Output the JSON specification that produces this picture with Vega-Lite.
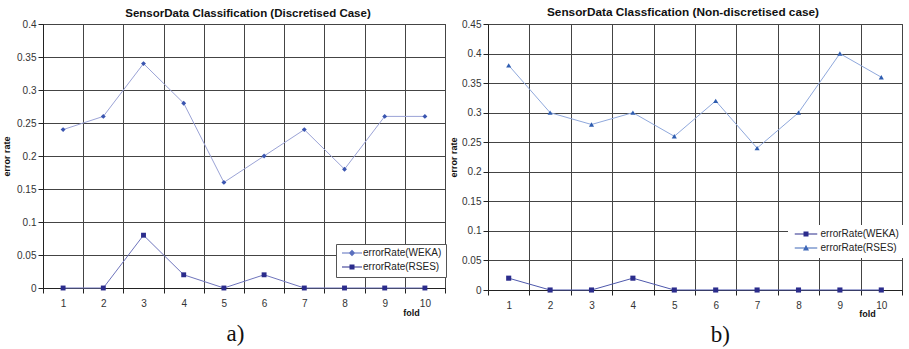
{
  "$schema": "https://vega.github.io/schema/vega-lite/v6.json",
  "background": "white",
  "padding": {"left": 2, "top": 6, "right": 2, "bottom": 0},
  "spacing": 2,
  "config": {
    "font": "Liberation Sans",
    "view": {"stroke": "#333", "strokeWidth": 1},
    "axis": {
      "labelFont": "Liberation Sans",
      "labelFontSize": 10,
      "labelColor": "#333",
      "titleFont": "Liberation Sans",
      "titleFontSize": 9,
      "titleFontWeight": "bold",
      "titleColor": "#111",
      "gridColor": "#444",
      "gridOpacity": 1,
      "gridWidth": 1,
      "domainColor": "#222",
      "tickColor": "#222",
      "tickSize": 5
    },
    "legend": {
      "labelFont": "Liberation Sans",
      "labelFontSize": 10,
      "labelColor": "#222"
    }
  },
  "datasets": {
    "d": [
      {"panel": "a", "series": "errorRate(WEKA)", "fold": 1, "rate": 0.24},
      {"panel": "a", "series": "errorRate(WEKA)", "fold": 2, "rate": 0.26},
      {"panel": "a", "series": "errorRate(WEKA)", "fold": 3, "rate": 0.34},
      {"panel": "a", "series": "errorRate(WEKA)", "fold": 4, "rate": 0.28},
      {"panel": "a", "series": "errorRate(WEKA)", "fold": 5, "rate": 0.16},
      {"panel": "a", "series": "errorRate(WEKA)", "fold": 6, "rate": 0.20},
      {"panel": "a", "series": "errorRate(WEKA)", "fold": 7, "rate": 0.24},
      {"panel": "a", "series": "errorRate(WEKA)", "fold": 8, "rate": 0.18},
      {"panel": "a", "series": "errorRate(WEKA)", "fold": 9, "rate": 0.26},
      {"panel": "a", "series": "errorRate(WEKA)", "fold": 10, "rate": 0.26},
      {"panel": "a", "series": "errorRate(RSES)", "fold": 1, "rate": 0},
      {"panel": "a", "series": "errorRate(RSES)", "fold": 2, "rate": 0},
      {"panel": "a", "series": "errorRate(RSES)", "fold": 3, "rate": 0.08},
      {"panel": "a", "series": "errorRate(RSES)", "fold": 4, "rate": 0.02},
      {"panel": "a", "series": "errorRate(RSES)", "fold": 5, "rate": 0},
      {"panel": "a", "series": "errorRate(RSES)", "fold": 6, "rate": 0.02},
      {"panel": "a", "series": "errorRate(RSES)", "fold": 7, "rate": 0},
      {"panel": "a", "series": "errorRate(RSES)", "fold": 8, "rate": 0},
      {"panel": "a", "series": "errorRate(RSES)", "fold": 9, "rate": 0},
      {"panel": "a", "series": "errorRate(RSES)", "fold": 10, "rate": 0},
      {"panel": "b", "series": "errorRate(WEKA)", "fold": 1, "rate": 0.02},
      {"panel": "b", "series": "errorRate(WEKA)", "fold": 2, "rate": 0},
      {"panel": "b", "series": "errorRate(WEKA)", "fold": 3, "rate": 0},
      {"panel": "b", "series": "errorRate(WEKA)", "fold": 4, "rate": 0.02},
      {"panel": "b", "series": "errorRate(WEKA)", "fold": 5, "rate": 0},
      {"panel": "b", "series": "errorRate(WEKA)", "fold": 6, "rate": 0},
      {"panel": "b", "series": "errorRate(WEKA)", "fold": 7, "rate": 0},
      {"panel": "b", "series": "errorRate(WEKA)", "fold": 8, "rate": 0},
      {"panel": "b", "series": "errorRate(WEKA)", "fold": 9, "rate": 0},
      {"panel": "b", "series": "errorRate(WEKA)", "fold": 10, "rate": 0},
      {"panel": "b", "series": "errorRate(RSES)", "fold": 1, "rate": 0.38},
      {"panel": "b", "series": "errorRate(RSES)", "fold": 2, "rate": 0.30},
      {"panel": "b", "series": "errorRate(RSES)", "fold": 3, "rate": 0.28},
      {"panel": "b", "series": "errorRate(RSES)", "fold": 4, "rate": 0.30},
      {"panel": "b", "series": "errorRate(RSES)", "fold": 5, "rate": 0.26},
      {"panel": "b", "series": "errorRate(RSES)", "fold": 6, "rate": 0.32},
      {"panel": "b", "series": "errorRate(RSES)", "fold": 7, "rate": 0.24},
      {"panel": "b", "series": "errorRate(RSES)", "fold": 8, "rate": 0.30},
      {"panel": "b", "series": "errorRate(RSES)", "fold": 9, "rate": 0.40},
      {"panel": "b", "series": "errorRate(RSES)", "fold": 10, "rate": 0.36}
    ]
  },
  "resolve": {
    "scale": {"color": "independent", "fill": "independent", "shape": "independent", "x": "independent", "y": "independent"},
    "legend": {"color": "independent", "fill": "independent", "shape": "independent"}
  },
  "hconcat": [
    {
      "title": {"text": "a)", "orient": "bottom", "font": "Liberation Serif", "fontSize": 23, "fontWeight": "normal", "color": "#111", "anchor": "middle", "offset": 5, "dx": 11},
      "vconcat": [
        {
          "title": {"text": "SensorData Classification (Discretised Case)", "fontSize": 11.5, "fontWeight": "bold", "color": "#111", "anchor": "middle", "offset": 0, "dx": 4},
          "width": 402,
          "height": 264,
          "data": {"name": "d"},
          "transform": [{"filter": "datum.panel == 'a'"}],
          "encoding": {
            "x": {
              "field": "fold", "type": "ordinal",
              "scale": {"type": "band", "paddingInner": 0, "paddingOuter": 0},
              "axis": {"title": "fold", "labelAngle": 0, "tickBand": "extent", "grid": true, "labelPadding": 5, "titleX": 368, "titleY": 24, "titleAlign": "center", "titleBaseline": "middle"}
            },
            "y": {
              "field": "rate", "type": "quantitative",
              "scale": {"domain": [0, 0.4], "nice": false, "zero": true},
              "axis": {"title": "error rate", "values": [0, 0.05, 0.1, 0.15, 0.2, 0.25, 0.3, 0.35, 0.4], "format": ".2~f", "grid": true, "labelPadding": 2, "titlePadding": 5}
            }
          },
          "resolve": {"scale": {"shape": "independent", "fill": "independent"}, "legend": {"shape": "independent", "fill": "independent"}},
          "layer": [
            {
              "mark": {"type": "line", "strokeWidth": 1},
              "encoding": {
                "color": {
                  "field": "series", "type": "nominal",
                  "scale": {"domain": ["errorRate(WEKA)", "errorRate(RSES)"], "range": ["#9BA3D6", "#6E74BC"]},
                  "legend": null
                }
              }
            },
            {
              "mark": {"type": "point", "filled": true, "opacity": 1, "strokeWidth": 0},
              "encoding": {
                "shape": {"field": "series", "type": "nominal", "scale": {"domain": ["errorRate(WEKA)", "errorRate(RSES)"], "range": ["diamond", "square"]}, "legend": null},
                "fill": {"field": "series", "type": "nominal", "scale": {"domain": ["errorRate(WEKA)", "errorRate(RSES)"], "range": ["#3A55B0", "#2B2C8C"]}, "legend": null},
                "size": {"value": 24}
              }
            },
            {
              "transform": [{"filter": "false"}],
              "mark": {"type": "point", "filled": true, "opacity": 1, "strokeWidth": 0},
              "encoding": {
                "shape": {"field": "series", "type": "nominal", "scale": {"domain": ["errorRate(WEKA)", "errorRate(RSES)"], "range": ["M-4,-0.2H4V0.2H-4ZM0,-1.3L1.3,0L0,1.3L-1.3,0Z", "M-4,-0.2H4V0.2H-4ZM-1,-1H1V1H-1Z"]},
                  "legend": {"title": null, "orient": "none", "legendX": 293, "legendY": 220, "fillColor": "white", "strokeColor": "#555", "padding": 4, "symbolSize": 25, "symbolOffset": 7, "labelOffset": 6, "rowPadding": 1, "symbolOpacity": 1}},
                "fill": {"field": "series", "type": "nominal", "scale": {"domain": ["errorRate(WEKA)", "errorRate(RSES)"], "range": ["#5A6FBE", "#2B2C8C"]},
                  "legend": {"title": null, "orient": "none", "legendX": 293, "legendY": 220, "fillColor": "white", "strokeColor": "#555", "padding": 4, "symbolSize": 25, "symbolOffset": 7, "labelOffset": 6, "rowPadding": 1, "symbolOpacity": 1}}
              }
            }
          ]
        }
      ]
    },
    {
      "title": {"text": "b)", "orient": "bottom", "font": "Liberation Serif", "fontSize": 23, "fontWeight": "normal", "color": "#111", "anchor": "middle", "offset": 5, "dx": 44},
      "vconcat": [
        {
          "title": {"text": "SensorData Classfication (Non-discretised case)", "fontSize": 11.8, "fontWeight": "bold", "color": "#111", "anchor": "middle", "offset": 0, "dx": -12},
          "width": 414,
          "height": 266,
          "data": {"name": "d"},
          "transform": [{"filter": "datum.panel == 'b'"}],
          "encoding": {
            "x": {
              "field": "fold", "type": "ordinal",
              "scale": {"type": "band", "paddingInner": 0, "paddingOuter": 0},
              "axis": {"title": "fold", "labelAngle": 0, "tickBand": "extent", "grid": true, "labelPadding": 5, "titleX": 379, "titleY": 23, "titleAlign": "center", "titleBaseline": "middle"}
            },
            "y": {
              "field": "rate", "type": "quantitative",
              "scale": {"domain": [0, 0.45], "nice": false, "zero": true},
              "axis": {"title": "error rate", "values": [0, 0.05, 0.1, 0.15, 0.2, 0.25, 0.3, 0.35, 0.4, 0.45], "format": ".2~f", "grid": true, "labelPadding": 2, "titlePadding": 3}
            }
          },
          "resolve": {"scale": {"shape": "independent", "fill": "independent"}, "legend": {"shape": "independent", "fill": "independent"}},
          "layer": [
            {
              "mark": {"type": "line", "strokeWidth": 1},
              "encoding": {
                "color": {
                  "field": "series", "type": "nominal",
                  "scale": {"domain": ["errorRate(WEKA)", "errorRate(RSES)"], "range": ["#4E58AC", "#8FA8DC"]},
                  "legend": null
                }
              }
            },
            {
              "mark": {"type": "point", "filled": true, "opacity": 1, "strokeWidth": 0},
              "encoding": {
                "shape": {"field": "series", "type": "nominal", "scale": {"domain": ["errorRate(WEKA)", "errorRate(RSES)"], "range": ["square", "triangle-up"]}, "legend": null},
                "fill": {"field": "series", "type": "nominal", "scale": {"domain": ["errorRate(WEKA)", "errorRate(RSES)"], "range": ["#2B2C8C", "#2F5DB0"]}, "legend": null},
                "size": {"value": 26}
              }
            },
            {
              "transform": [{"filter": "false"}],
              "mark": {"type": "point", "filled": true, "opacity": 1, "strokeWidth": 0},
              "encoding": {
                "shape": {"field": "series", "type": "nominal", "scale": {"domain": ["errorRate(WEKA)", "errorRate(RSES)"], "range": ["M-4.5,-0.2H4.5V0.2H-4.5ZM-1,-1H1V1H-1Z", "M-4.5,-0.2H4.5V0.2H-4.5ZM0,-1.3L1.2,1L-1.2,1Z"]},
                  "legend": {"title": null, "orient": "none", "legendX": 300, "legendY": 201, "fillColor": "white", "padding": 4, "symbolSize": 25, "symbolOffset": 9, "labelOffset": 9.5, "rowPadding": 1, "symbolOpacity": 1}},
                "fill": {"field": "series", "type": "nominal", "scale": {"domain": ["errorRate(WEKA)", "errorRate(RSES)"], "range": ["#2B2C8C", "#3F68B8"]},
                  "legend": {"title": null, "orient": "none", "legendX": 300, "legendY": 201, "fillColor": "white", "padding": 4, "symbolSize": 25, "symbolOffset": 9, "labelOffset": 9.5, "rowPadding": 1, "symbolOpacity": 1}}
              }
            }
          ]
        }
      ]
    }
  ]
}
